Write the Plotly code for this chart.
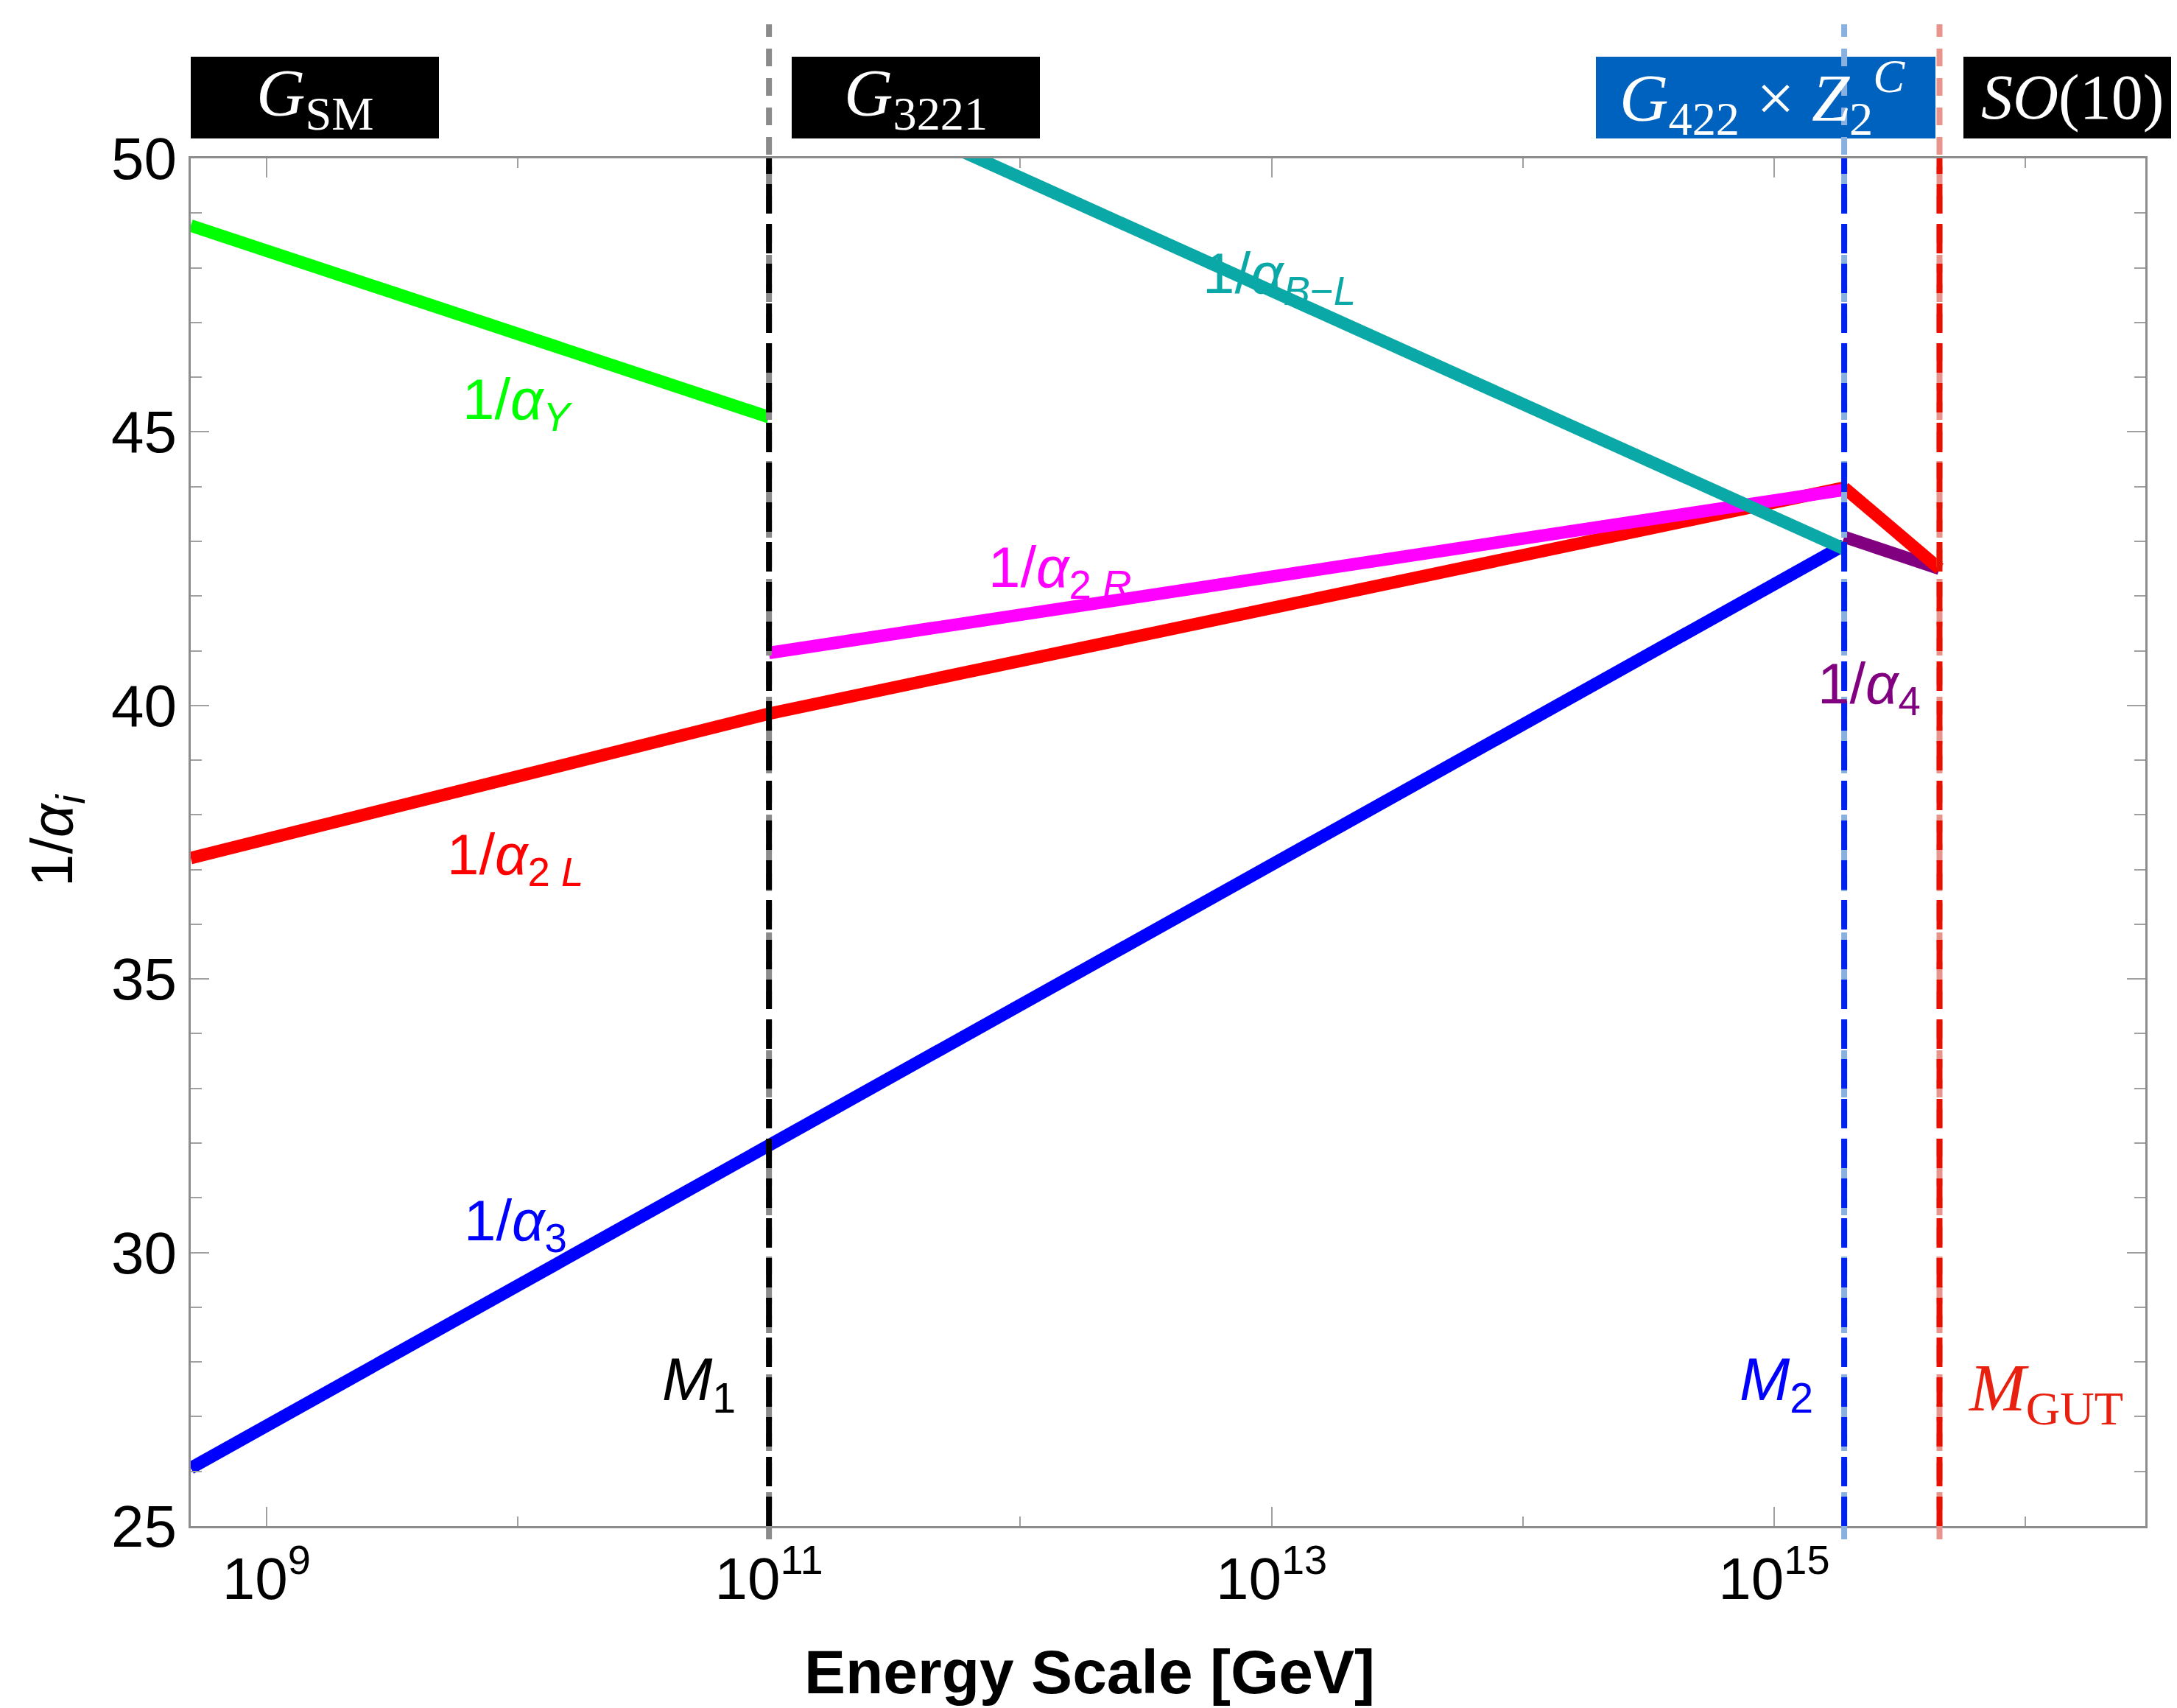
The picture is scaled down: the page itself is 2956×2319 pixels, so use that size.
import math
import plotly.graph_objects as go

# ---------------- data ----------------
E_MIN, E_MAX = 5e8, 3e16          # x-axis range [GeV]
M1, M2, M_GUT = 1e11, 1.9e15, 4.55e15   # breaking scales [GeV]

alphaY_E = [5e8, 1e11]
alphaY = [48.77, 45.27]

alpha2L_E = [5e8, 1e11, 1.9e15]
alpha2L = [37.21, 39.85, 43.98]

alpha2_422_E = [1.9e15, 4.55e15]
alpha2_422 = [43.98, 42.50]

alpha3_E = [5e8, 1e11, 1.9e15]
alpha3 = [26.06, 31.97, 42.93]

alpha2R_E = [1e11, 1.9e15]
alpha2R = [40.96, 43.94]

alphaBL_E = [1e11, 1.9e15]
alphaBL = [51.72, 42.86]

alpha4_E = [1.9e15, 4.55e15]
alpha4 = [43.08, 42.50]

x_tickvals = [1e9, 1e11, 1e13, 1e15]
x_ticktext = ["10<sup>9</sup>", "10<sup>11</sup>", "10<sup>13</sup>", "10<sup>15</sup>"]
x_minor_vals = [1e10, 1e12, 1e14, 1e16]

# ---------------- layout geometry ----------------
W, H = 2956, 2319
L, R, T, B = 251, 2905, 207, 2064   # plot area in px


def px_x(px):
    return (px - L) / (R - L)


def px_y(py):
    return (B - py) / (B - T)


SANS = "Liberation Sans, Arial, Helvetica, sans-serif"
SERIF = "Liberation Serif, Times New Roman, serif"

fig = go.Figure()


def add_line(xs, ys, color):
    fig.add_trace(go.Scatter(x=xs, y=ys, mode="lines",
                             line=dict(color=color, width=17),
                             showlegend=False, hoverinfo="skip"))


add_line(alphaY_E, alphaY, "#00FF00")
add_line(alpha3_E, alpha3, "#0000FF")
add_line(alpha2L_E, alpha2L, "#FF0000")
add_line(alpha2R_E, alpha2R, "#FF00FF")
add_line(alphaBL_E, alphaBL, "#0AA8A6")
add_line(alpha4_E, alpha4, "#800080")
add_line(alpha2_422_E, alpha2_422, "#FF0000")

shapes = []
# group boxes above the plot
box_top, box_bot = 69, 180
boxes = [(251, 588, "#000000"), (1067, 1404, "#000000"),
         (2159, 2620, "#0062BF"), (2658, 2990, "#000000")]
for x0, x1, c in boxes:
    shapes.append(dict(type="rect", xref="paper", yref="paper",
                       x0=px_x(x0), x1=px_x(x1), y0=px_y(box_bot), y1=px_y(box_top),
                       fillcolor=c, line=dict(width=0), layer="above"))

# vertical dashed scale lines
for m, dark, light in [(M1, "#000000", "#8A8A8A"),
                       (M2, "#0022EE", "#8AB0E0"),
                       (M_GUT, "#E81000", "#E8948C")]:
    shapes.append(dict(type="line", xref="x", yref="paper",
                       x0=m, x1=m, y0=px_y(2082), y1=px_y(25),
                       line=dict(color=light, width=8, dash="24px,16px"),
                       layer="above"))
    shapes.append(dict(type="line", xref="x", yref="paper",
                       x0=m, x1=m, y0=0, y1=1,
                       line=dict(color=dark, width=8, dash="40px,14px"),
                       layer="above"))

annotations = []


def label(text, lx, ly, color, size=78, family=SANS):
    annotations.append(dict(text=text, x=lx, y=ly, xref="x", yref="y",
                            showarrow=False, xanchor="center", yanchor="middle",
                            font=dict(color=color, size=size, family=family)))


label("1/<i>α</i><sub><i>Y</i></sub>", 10.0, 45.52, "#00FF00")
label("1/<i>α</i><sub>2 <i>L</i></sub>", 9.99, 37.21, "#FF0000")
label("1/<i>α</i><sub>3</sub>", 9.99, 30.51, "#0000FF")
label("1/<i>α</i><sub>2 <i>R</i></sub>", 12.16, 42.46, "#FF00FF")
label("1/<i>α</i><sub><i>B</i>−<i>L</i></sub>", 13.03, 47.83, "#0AA8A6")
label("1/<i>α</i><sub>4</sub>", 15.378, 40.33, "#800080")
label("<i>M</i><sub>1</sub>", 10.72, 27.61, "#000000", size=82)
label("<i>M</i><sub>2</sub>", 15.01, 27.61, "#0000FF", size=82)
label("<i>M</i><sub>GUT</sub>", 16.08, 27.45, "#E82010", size=92, family=SERIF)

# box texts
box_font = dict(color="white", size=92, family=SERIF)
annotations.append(dict(text="<i>G</i><sub>SM</sub>", x=px_x(420), y=px_y(124),
                        xref="paper", yref="paper", showarrow=False,
                        xanchor="center", yanchor="middle", font=box_font))
annotations.append(dict(text="<i>G</i><sub>3221</sub>", x=px_x(1235), y=px_y(124),
                        xref="paper", yref="paper", showarrow=False,
                        xanchor="center", yanchor="middle", font=box_font))
annotations.append(dict(text="<i>G</i><sub>422</sub> × <i>Z</i><sub>2</sub><sup><i>C</i></sup>",
                        x=px_x(2385), y=px_y(124),
                        xref="paper", yref="paper", showarrow=False,
                        xanchor="center", yanchor="middle", font=box_font))
annotations.append(dict(text="<i>SO</i>(10)", x=px_x(2680), y=px_y(124),
                        xref="paper", yref="paper", showarrow=False,
                        xanchor="left", yanchor="middle",
                        font=dict(color="white", size=86, family=SERIF)))

# axis titles
annotations.append(dict(text="<b>Energy Scale [GeV]</b>", x=px_x(1471), y=px_y(2262),
                        xref="paper", yref="paper", showarrow=False,
                        xanchor="center", yanchor="middle",
                        font=dict(color="black", size=84, family=SANS)))
annotations.append(dict(text="1/<i>α</i><sub><i>i</i></sub>", x=px_x(68), y=px_y(1133),
                        xref="paper", yref="paper", showarrow=False, textangle=-90,
                        xanchor="center", yanchor="middle",
                        font=dict(color="black", size=80, family=SANS)))

axis_common = dict(showgrid=False, zeroline=False, showline=True,
                   linecolor="#8C8C8C", linewidth=3, mirror="ticks",
                   ticks="inside", tickcolor="#A0A0A0", tickwidth=2,
                   tickfont=dict(family=SANS, size=80, color="black"))

fig.update_layout(
    width=W, height=H,
    margin=dict(l=L, r=W - R, t=T, b=H - B, pad=0),
    paper_bgcolor="white", plot_bgcolor="white",
    shapes=shapes, annotations=annotations,
    xaxis=dict(type="log", range=[math.log10(E_MIN), math.log10(E_MAX)],
               tickvals=x_tickvals, ticktext=x_ticktext, ticklen=26,
               minor=dict(tickvals=x_minor_vals, ticklen=13, ticks="inside",
                          tickcolor="#A0A0A0", tickwidth=2),
               **axis_common),
    yaxis=dict(range=[25, 50], tick0=25, dtick=5, ticklen=25,
               minor=dict(dtick=1, ticklen=15, ticks="inside",
                          tickcolor="#A0A0A0", tickwidth=2),
               **axis_common),
)

fig.write_html("out.html")
